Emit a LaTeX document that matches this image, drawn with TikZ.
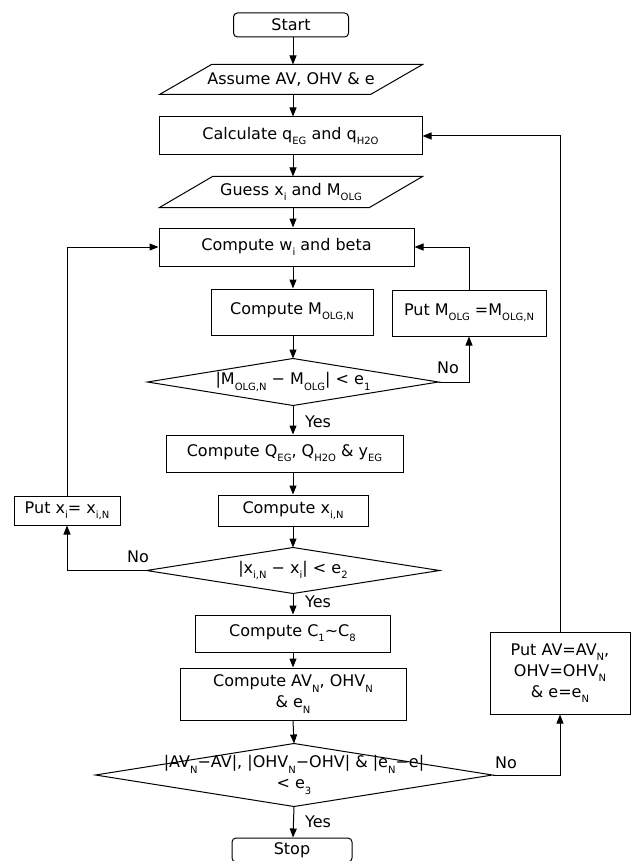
\documentclass[tikz,border=0pt]{standalone}
\usepackage{fontspec}
\setmainfont{DejaVu Sans}
\usetikzlibrary{arrows.meta}
\newcommand\ls[1]{\raisebox{-0.32em}{\fontsize{10}{10}\selectfont #1}}
\begin{document}
\begin{tikzpicture}[x=1pt,y=-1pt,
  font=\fontsize{16}{21}\selectfont,
  line width=1pt,
  box/.style={draw, rectangle, inner sep=0pt, align=center},
  rbox/.style={box, rounded corners=4pt},
  plain/.style={inner sep=0pt, align=center},
  lbl/.style={inner sep=0pt, font=\fontsize{16}{19}\selectfont},
  arr/.style={-{Triangle[length=9pt,width=7pt]}}]
\useasboundingbox (0,0) rectangle (631,861);
\fill[white] (0,0) rectangle (631,861);
\clip (0,0) rectangle (631,861);
\coordinate (col) at (293,0);

% nodes
\node[rbox, minimum width=115pt, minimum height=24pt] (start) at (291,25) {Start};
\node[plain, minimum width=262pt, minimum height=29pt] (assume) at (291,79.5) {Assume AV, OHV \& e};
\draw (assume.south west) -- ([xshift=52pt]assume.north west) -- (assume.north east) -- ([xshift=-52pt]assume.south east) -- cycle;
\node[box, minimum width=263pt, minimum height=38pt] (calc) at (290.5,136) {Calculate q\ls{EG} and q\ls{H2O}};
\node[plain, minimum width=262pt, minimum height=30pt] (guess) at (291,192) {Guess x\ls{i} and M\ls{OLG}};
\draw (guess.south west) -- ([xshift=53pt]guess.north west) -- (guess.north east) -- ([xshift=-53pt]guess.south east) -- cycle;
\node[box, minimum width=255pt, minimum height=38pt] (cw) at (286.5,247) {Compute w\ls{i} and beta};
\node[box, minimum width=162pt, minimum height=46pt] (cm) at (292,312) {Compute M\ls{OLG,N}};
\node[box, minimum width=154pt, minimum height=46pt] (putm) at (469,313) {Put M\ls{OLG} =M\ls{OLG,N}};
\node[plain, minimum width=290pt, minimum height=46pt] (d1) at (293,382) {|M\ls{OLG,N} − M\ls{OLG}| < e\ls{1}};
\draw (d1.west) -- (d1.north) -- (d1.east) -- (d1.south) -- cycle;
\node[box, minimum width=237pt, minimum height=37pt] (cq) at (284.5,453.5) {Compute Q\ls{EG}, Q\ls{H2O} \& y\ls{EG}};
\node[box, minimum width=150pt, minimum height=31pt] (cx) at (293,510.5) {Compute x\ls{i,N}};
\node[box, minimum width=106pt, minimum height=29pt] (putx) at (67,510.5) {Put x\ls{i}= x\ls{i,N}};
\node[plain, minimum width=292pt, minimum height=45pt] (d2) at (293,570.5) {|x\ls{i,N} − x\ls{i}| < e\ls{2}};
\draw (d2.west) -- (d2.north) -- (d2.east) -- (d2.south) -- cycle;
\node[box, minimum width=195pt, minimum height=37pt] (cc) at (292.5,633.5) {Compute C\ls{1}\textasciitilde C\ls{8}};
\node[box, minimum width=226pt, minimum height=52pt] (av) at (293,694) {Compute AV\ls{N}, OHV\ls{N}\\\& e\ls{N}};
\node[plain, minimum width=396pt, minimum height=62pt] (d3) at (294,775) {|AV\ls{N}−AV|, |OHV\ls{N}−OHV| \& |e\ls{N}−e|\\< e\ls{3}};
\draw (d3.west) -- (d3.north) -- (d3.east) -- (d3.south) -- cycle;
\node[box, minimum width=140pt, minimum height=82pt] (putav) at (560,673) {Put AV=AV\ls{N},\\OHV=OHV\ls{N}\\\& e=e\ls{N}};
\node[rbox, minimum width=120pt, minimum height=24pt] (stop) at (292,850) {Stop};

% labels
\node[lbl] (no1) at (448,368) {No};
\node[lbl] (yes1) at (318,422) {Yes};
\node[lbl] (no2) at (138,557) {No};
\node[lbl] (yes2) at (318,602) {Yes};
\node[lbl] (no3) at (506,763) {No};
\node[lbl] (yes3) at (318,822) {Yes};

% main flow
\draw[arr] (start.south -| col) -- (assume.north -| col);
\draw[arr] (assume.south -| col) -- (calc.north -| col);
\draw[arr] (calc.south -| col) -- (guess.north -| col);
\draw[arr] (guess.south -| col) -- (cw.north -| col);
\draw[arr] (cw.south -| col) -- (cm.north -| col);
\draw[arr] (cm.south -| col) -- (d1.north);
\draw[arr] (d1.south) -- (cq.north -| col);
\draw[arr] (cq.south -| col) -- (cx.north -| col);
\draw[arr] (cx.south -| col) -- (d2.north);
\draw[arr] (d2.south) -- (cc.north -| col);
\draw[arr] (cc.south -| col) -- (av.north -| col);
\draw[arr] (av.south -| col) -- (d3.north);
\draw[arr] (d3.south) -- (stop.north -| col);

% loops
\draw[arr] (d1.east) -| (putm.south);
\draw[arr] (putm.north) |- (cw.east);
\draw[arr] (d2.west) -| (putx.south);
\draw[arr] (putx.north) |- (cw.west);
\draw[arr] (d3.east) -| (putav.south);
\draw[arr] (putav.north) |- (calc.east);
\end{tikzpicture}
\end{document}
